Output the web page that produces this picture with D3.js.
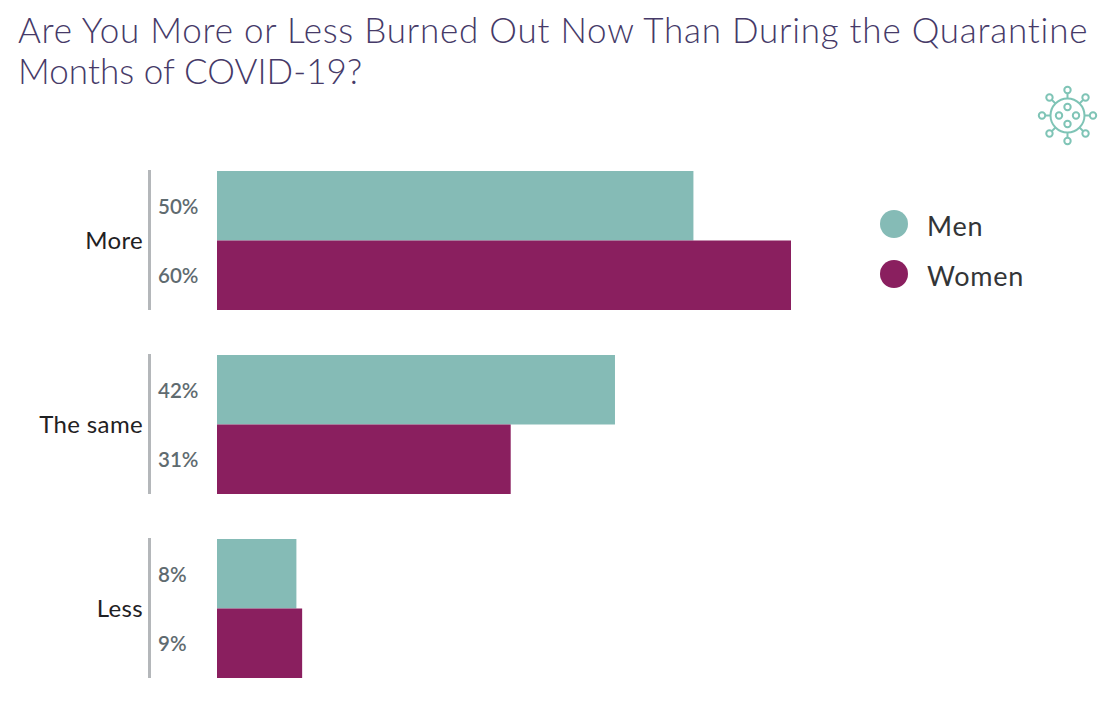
<!DOCTYPE html>
<html><head><meta charset="utf-8">
<script src="https://cdn.jsdelivr.net/npm/d3@7/dist/d3.min.js"></script>
<style>html,body{margin:0;padding:0;background:#fff}svg{display:block}text{font-family:Lato,"Open Sans",sans-serif}</style>
</head><body><div id="c"></div>
<script>
const titleLines = ["Are You More or Less Burned Out Now Than During the Quarantine","Months of COVID-19?"];
const categories = ["More","The same","Less"];
const seriesNames = ["Men","Women"];
const menValues = [49.8,41.6,8.3];
const womenValues = [60,30.7,8.9];
const menLabels = ["50%","42%","8%"];
const womenLabels = ["60%","31%","9%"];
const colors = ["#85bbb6","#8a1f5f"];

const svg = d3.select("#c").append("svg").attr("width",1118).attr("height",720);
const x = d3.scaleLinear().domain([0,60]).range([217,791]);
const y = d3.scaleBand().domain(categories).range([171,678]).paddingInner(45/184).paddingOuter(0);
const sub = d3.scaleBand().domain(seriesNames).range([0,y.bandwidth()]);
const color = d3.scaleOrdinal().domain(seriesNames).range(colors);

svg.append("g").selectAll("text").data(titleLines).join("text")
  .attr("x",18).attr("y",(d,i)=>43+i*41)
  .attr("font-size",35).attr("fill","#463a68").attr("font-weight",300)
  .style("letter-spacing",(d,i)=>i?"0.05px":"0.77px").text(d=>d);

const rows = categories.map((c,i)=>({c,vals:[
  {s:"Men",v:menValues[i],l:menLabels[i]},
  {s:"Women",v:womenValues[i],l:womenLabels[i]}]}));
const g = svg.append("g").selectAll("g").data(rows).join("g");
g.append("line").attr("x1",149.5).attr("x2",149.5)
  .attr("y1",d=>y(d.c)-1).attr("y2",d=>y(d.c)+y.bandwidth())
  .attr("stroke","#b4b7ba").attr("stroke-width",3);
g.append("text").attr("x",143).attr("y",d=>y(d.c)+y.bandwidth()/2+8)
  .attr("text-anchor","end").attr("font-size",24).attr("fill","#1f2123").style("letter-spacing","0.35px").text(d=>d.c);
g.each(function(d){
  const gg = d3.select(this);
  gg.selectAll("rect").data(d.vals).join("rect")
    .attr("x",x(0)).attr("y",v=>y(d.c)+sub(v.s))
    .attr("width",v=>x(v.v)-x(0)).attr("height",sub.bandwidth())
    .attr("fill",v=>color(v.s));
  gg.selectAll("text.val").data(d.vals).join("text").attr("class","val")
    .attr("x",158).attr("y",v=>y(d.c)+sub(v.s)+sub.bandwidth()/2+8)
    .attr("font-size",20.5).attr("font-weight",600).attr("fill","#5f6b70").text(v=>v.l);
});

const lg = svg.append("g").selectAll("g").data(seriesNames).join("g");
const ly = d3.scalePoint().domain(seriesNames).range([224,274]);
lg.append("circle").attr("cx",894).attr("cy",d=>ly(d)).attr("r",14).attr("fill",d=>color(d));
lg.append("text").attr("x",927).attr("y",d=>ly(d)+12).attr("font-size",27).attr("fill","#333537").style("letter-spacing","0.75px").text(d=>d);

// virus icon
const ic = svg.append("g").attr("transform","translate(1067.5,115.5)")
  .attr("fill","none").attr("stroke","#7fc4b6").attr("stroke-width",2);
ic.append("circle").attr("r",17);
d3.range(8).forEach(i=>{
  const a=i*Math.PI/4;
  ic.append("line").attr("x1",17*Math.cos(a)).attr("y1",17*Math.sin(a)).attr("x2",22.5*Math.cos(a)).attr("y2",22.5*Math.sin(a));
  const r = 25.5;
  ic.append("circle").attr("cx",r*Math.cos(a)).attr("cy",r*Math.sin(a)).attr("r",3.2);
});
[[0,-8.5],[8.5,0],[0,8.5],[-8.5,0]].forEach(p=>ic.append("circle").attr("cx",p[0]).attr("cy",p[1]).attr("r",3.2));
</script></body></html>
